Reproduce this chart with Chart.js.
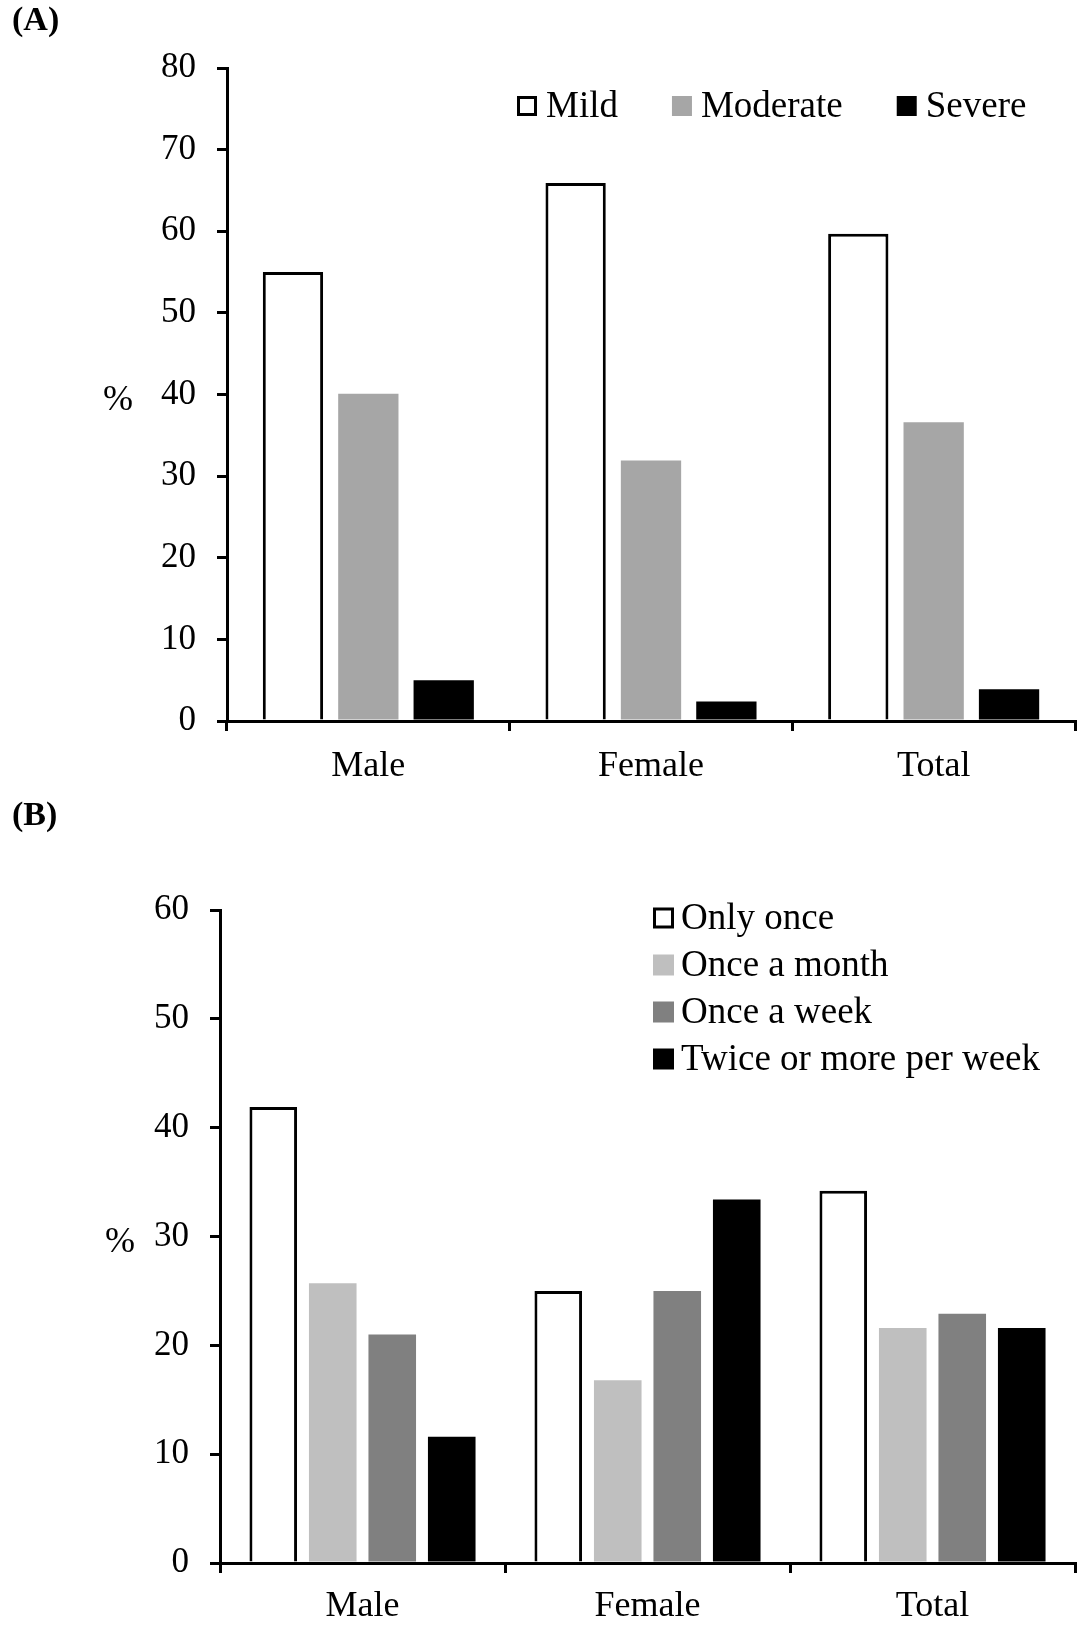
<!DOCTYPE html>
<html>
<head>
<meta charset="utf-8">
<script src="https://cdn.jsdelivr.net/npm/chart.js@4.4.1/dist/chart.umd.min.js"></script>
<style>
  body { margin: 0; background: #fff; width: 1086px; height: 1625px; position: relative; overflow: hidden;
         font-family: "Liberation Serif", "Times New Roman", serif; }
  .panel { position: absolute; left: 0; width: 1086px; }
  .tag { position: absolute; left: 12px; font-weight: bold; font-size: 34px; line-height: 34px; color: #000; }
</style>
</head>
<body>
<div class="panel" style="top:0;height:800px"><canvas id="chartA"></canvas></div>
<div class="panel" style="top:800px;height:825px"><canvas id="chartB"></canvas></div>
<div class="tag" style="top:2px">(A)</div>
<div class="tag" style="top:797px">(B)</div>
<script>
const SERIF = '"Liberation Serif", "Times New Roman", serif';

// panel A - severity
const groups = ['Male', 'Female', 'Total'];
const severityNames = ['Mild', 'Moderate', 'Severe'];
const mild = [55.0, 65.9, 59.7];
const moderate = [40.1, 31.9, 36.6];
const severe = [5.0, 2.4, 3.9];
const ticksA = [0, 10, 20, 30, 40, 50, 60, 70, 80];

// panel B - frequency
const frequencyNames = ['Only once', 'Once a month', 'Once a week', 'Twice or more per week'];
const onlyOnce = [41.9, 25.0, 34.2];
const onceMonth = [25.7, 16.8, 21.6];
const onceWeek = [21.0, 25.0, 22.9];
const twicePlus = [11.6, 33.4, 21.6];
const ticksB = [0, 10, 20, 30, 40, 50, 60];

// legend with square boxes, drawn straight on the canvas
const boxLegend = {
    id: 'boxLegend',
    afterDraw(chart, args, opts) {
        const ctx = chart.ctx;
        const s = opts.box;
        let x = opts.x, y = opts.y;
        ctx.save();
        ctx.font = '37px ' + SERIF;
        ctx.textBaseline = 'middle';
        ctx.textAlign = 'left';
        chart.data.datasets.forEach(ds => {
            ctx.fillStyle = ds.backgroundColor;
            ctx.fillRect(x, y - s / 2, s, s);
            if (ds.borderWidth) {
                ctx.lineWidth = 3;
                ctx.strokeStyle = ds.borderColor;
                ctx.strokeRect(x + 1.5, y - s / 2 + 1.5, s - 3, s - 3);
            }
            ctx.fillStyle = '#000';
            ctx.fillText(ds.label, x + s + opts.gap, y + 1);
            if (opts.vertical) {
                y += opts.step;
            } else {
                x += s + opts.gap + ctx.measureText(ds.label).width + opts.step;
            }
        });
        ctx.restore();
    }
};

// unrotated "%" to the left of the y axis
const percentTitle = {
    id: 'percentTitle',
    afterDraw(chart, args, opts) {
        const ctx = chart.ctx;
        const area = chart.chartArea;
        ctx.save();
        ctx.font = '36px ' + SERIF;
        ctx.fillStyle = '#000';
        ctx.textAlign = 'center';
        ctx.textBaseline = 'middle';
        ctx.fillText('%', opts.x, (area.top + area.bottom) / 2 + 6);
        ctx.restore();
    }
};

function scales(ticks, yWidth, xHeight, xPad) {
    return {
        x: {
            offset: true,
            grid: { offset: true, drawOnChartArea: false, tickLength: 10, color: '#000', lineWidth: 3 },
            border: { color: '#000', width: 3 },
            ticks: { color: '#000', font: { family: SERIF, size: 36 }, padding: xPad, maxRotation: 0 },
            afterFit: s => { s.height = xHeight; }
        },
        y: {
            min: ticks[0],
            max: ticks[ticks.length - 1],
            afterBuildTicks: s => { s.ticks = ticks.map(v => ({ value: v })); },
            grid: { drawOnChartArea: false, tickLength: 10, color: '#000', lineWidth: 3 },
            border: { color: '#000', width: 3 },
            ticks: { color: '#000', font: { family: SERIF, size: 35 }, padding: 21 },
            afterFit: s => { s.width = yWidth; }
        }
    };
}

function bars(label, data, color, outlined) {
    return {
        label: label,
        data: data,
        backgroundColor: color,
        borderColor: '#000',
        borderWidth: outlined ? 3 : 0
    };
}

new Chart(document.getElementById('chartA'), {
    type: 'bar',
    data: {
        labels: groups,
        datasets: [
            bars(severityNames[0], mild, '#ffffff', true),
            bars(severityNames[1], moderate, '#a6a6a6', false),
            bars(severityNames[2], severe, '#000000', false)
        ]
    },
    options: {
        responsive: true,
        maintainAspectRatio: false,
        animation: false,
        barPercentage: 0.8,
        categoryPercentage: 0.8,
        layout: { padding: { top: 68, right: 11, bottom: 0, left: 0 } },
        scales: scales(ticksA, 227, 79, 14),
        plugins: {
            legend: { display: false },
            tooltip: { enabled: false },
            boxLegend: { x: 517, y: 106, box: 20, gap: 9, step: 54, vertical: false },
            percentTitle: { x: 118 }
        }
    },
    plugins: [boxLegend, percentTitle]
});

new Chart(document.getElementById('chartB'), {
    type: 'bar',
    data: {
        labels: groups,
        datasets: [
            bars(frequencyNames[0], onlyOnce, '#ffffff', true),
            bars(frequencyNames[1], onceMonth, '#bfbfbf', false),
            bars(frequencyNames[2], onceWeek, '#808080', false),
            bars(frequencyNames[3], twicePlus, '#000000', false)
        ]
    },
    options: {
        responsive: true,
        maintainAspectRatio: false,
        animation: false,
        barPercentage: 0.8,
        categoryPercentage: 0.835,
        layout: { padding: { top: 110, right: 11, bottom: 0, left: 0 } },
        scales: scales(ticksB, 220, 62, 12),
        plugins: {
            legend: { display: false },
            tooltip: { enabled: false },
            boxLegend: { x: 653, y: 118, box: 21, gap: 7, step: 47, vertical: true },
            percentTitle: { x: 120 }
        }
    },
    plugins: [boxLegend, percentTitle]
});
</script>
</body>
</html>
